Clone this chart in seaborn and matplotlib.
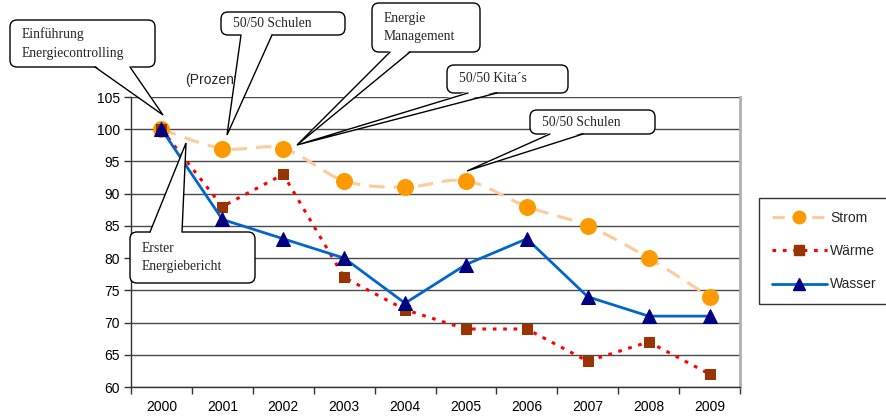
import numpy as np
import pandas as pd
import matplotlib
matplotlib.use("Agg")
import matplotlib.pyplot as plt
import seaborn as sns
from matplotlib.lines import Line2D
from matplotlib.patches import FancyBboxPatch, Polygon

years = [2000, 2001, 2002, 2003, 2004, 2005, 2006, 2007, 2008, 2009]
strom = [100, 97, 97, 92, 91, 92, 88, 85, 80, 74]
waerme = [100, 88, 93, 77, 72, 69, 69, 64, 67, 62]
wasser = [100, 86, 83, 80, 73, 79, 83, 74, 71, 71]
y_ticks = [60, 65, 70, 75, 80, 85, 90, 95, 100, 105]

sns.set_theme(style="white")
plt.rcParams["font.family"] = ["Liberation Sans", "DejaVu Sans"]

W, H = 887, 419
fig = plt.figure(figsize=(W / 100, H / 100), dpi=100)
fig.patch.set_facecolor("white")

def fx(px):
    return px / W

def fy(py):
    return 1 - py / H

ax = fig.add_axes([fx(131), fy(387), fx(740) - fx(131), fy(97) - fy(387)])
ax.set_facecolor("white")


def smooth(xs, ys, n=30):
    # Bezier smoothing through points (spreadsheet-style smoothed line)
    xs = np.asarray(xs, float)
    ys = np.asarray(ys, float)
    px, py = [], []
    for i in range(len(xs) - 1):
        p0 = np.array([xs[max(i - 1, 0)], ys[max(i - 1, 0)]])
        p1 = np.array([xs[i], ys[i]])
        p2 = np.array([xs[i + 1], ys[i + 1]])
        p3 = np.array([xs[min(i + 2, len(xs) - 1)], ys[min(i + 2, len(xs) - 1)]])
        c1 = p1 + (p2 - p0) / 6
        c2 = p2 - (p3 - p1) / 6
        t = np.linspace(0, 1, n)[:, None]
        pts = ((1 - t) ** 3) * p1 + 3 * ((1 - t) ** 2) * t * c1 + 3 * (1 - t) * t ** 2 * c2 + t ** 3 * p2
        px.extend(pts[:, 0])
        py.extend(pts[:, 1])
    return np.array(px), np.array(py)


ax.set_xlim(1999.5, 2009.5)
ax.set_ylim(60, 105)

# grid lines
for v in y_ticks:
    ax.axhline(v, color="#4a4a4a", lw=1.0, zorder=1)

# Strom: smoothed dashed line with circle markers
sx, sy = smooth(years, strom)
ax.plot(sx, sy, color="#FDCB9B", lw=2.2, dashes=(5, 3), zorder=3)
sns.scatterplot(x=years, y=strom, ax=ax, color="#FF9900", s=150, marker="o",
                edgecolor="#FF9900", linewidth=0, zorder=4)

# Wärme: dotted red line with brown square markers
sns.lineplot(x=years, y=waerme, ax=ax, color="#FF0000", lw=2.2, dashes=False,
             linestyle=(0, (1.2, 2.2)), marker="s", markersize=7,
             markerfacecolor="#993300", markeredgecolor="#993300", zorder=5)

# Wasser: solid blue line with navy triangles
sns.lineplot(x=years, y=wasser, ax=ax, color="#0066CC", lw=2.0,
             marker="^", markersize=10,
             markerfacecolor="#000080", markeredgecolor="#000080", zorder=6)

# axes styling
ax.spines["top"].set_visible(False)
ax.spines["right"].set_color("#b0b0b0")
ax.spines["right"].set_linewidth(2)
ax.spines["left"].set_color("#333333")
ax.spines["bottom"].set_color("#333333")
ax.spines["left"].set_linewidth(1)
ax.spines["bottom"].set_linewidth(1)

ax.set_yticks(y_ticks)
ax.set_yticklabels([str(v) for v in y_ticks], fontsize=10, color="black")
ax.tick_params(axis="y", direction="out", length=5, width=1, color="#333333", left=True, pad=3)

ax.set_xticks(years)
ax.set_xticklabels([str(y) for y in years], fontsize=10, color="black")
ax.set_xticks([y - 0.5 for y in years] + [2009.5], minor=True)
ax.tick_params(axis="x", which="major", length=0, pad=9)
ax.tick_params(axis="x", which="minor", direction="out", length=5, width=1, color="#333333", bottom=True)
ax.set_xlabel("")
ax.set_ylabel("")

fig.text(fx(185), fy(80), "(Prozent)", fontsize=10, va="center", ha="left")

# legend
handles = [
    Line2D([], [], color="#FDCB9B", lw=2.2, dashes=(4, 2.5), marker="o", markersize=9,
           markerfacecolor="#FF9900", markeredgecolor="#FF9900"),
    Line2D([], [], color="#FF0000", lw=2.2, linestyle=(0, (1.2, 2.2)), marker="s", markersize=7,
           markerfacecolor="#993300", markeredgecolor="#993300"),
    Line2D([], [], color="#0066CC", lw=2.0, marker="^", markersize=9,
           markerfacecolor="#000080", markeredgecolor="#000080"),
]
leg = fig.legend(handles, ["Strom", "Wärme", "Wasser"], loc="center",
                 bbox_to_anchor=(fx(824), fy(251)), fontsize=10, frameon=True,
                 fancybox=False, edgecolor="black", handlelength=4, handletextpad=0.2,
                 labelspacing=1.4, borderpad=0.9, borderaxespad=0)
leg.get_frame().set_linewidth(1)

# callout overlay in pixel coordinates
ov = fig.add_axes([0, 0, 1, 1], zorder=10)
ov.set_xlim(0, W)
ov.set_ylim(H, 0)
ov.axis("off")
ov.patch.set_alpha(0)

callouts = [
    # text, box (x0, y0, x1, y1), wedge base points, tip
    ("Einführung\nEnergiecontrolling", (10, 20, 155, 67), ((95, 67), (130, 67)), (163, 115)),
    ("50/50 Schulen", (221, 12, 345, 35), ((241, 35), (272, 35)), (227, 135)),
    ("Energie\nManagement", (372, 3, 480, 52), ((390, 52), (410, 52)), (297, 145)),
    ("50/50 Kita´s", (447, 65, 568, 93), ((468, 93), (497, 93)), (297, 145)),
    ("50/50 Schulen", (530, 110, 655, 134), ((550, 134), (583, 134)), (467, 171)),
    ("Erster\nEnergiebericht", (130, 232, 255, 283), ((150, 232), (182, 232)), (186, 143)),
]

for i, (txt, (x0, y0, x1, y1), (b1, b2), tip) in enumerate(callouts):
    z = 20 + i * 3
    box = FancyBboxPatch((x0, y0), x1 - x0, y1 - y0,
                         boxstyle="round,pad=0,rounding_size=7",
                         facecolor="white", edgecolor="black", lw=1.0, zorder=z)
    ov.add_patch(box)
    inward = 1.5 if b1[1] == y1 else -1.5
    wedge = Polygon([(b1[0], b1[1] - inward), tip, (b2[0], b2[1] - inward)],
                    closed=True, facecolor="white", edgecolor="none", zorder=z + 1)
    ov.add_patch(wedge)
    ov.plot([b1[0], tip[0], b2[0]], [b1[1], tip[1], b2[1]], color="black", lw=1.0,
            zorder=z + 1, solid_joinstyle="miter")
    ov.text(x0 + 12, (y0 + y1) / 2, txt, fontsize=9.8, family=["Liberation Serif", "DejaVu Serif"],
            va="center", ha="left", linespacing=1.55, zorder=z + 2)

fig.savefig("out.png", dpi=100, facecolor="white")
